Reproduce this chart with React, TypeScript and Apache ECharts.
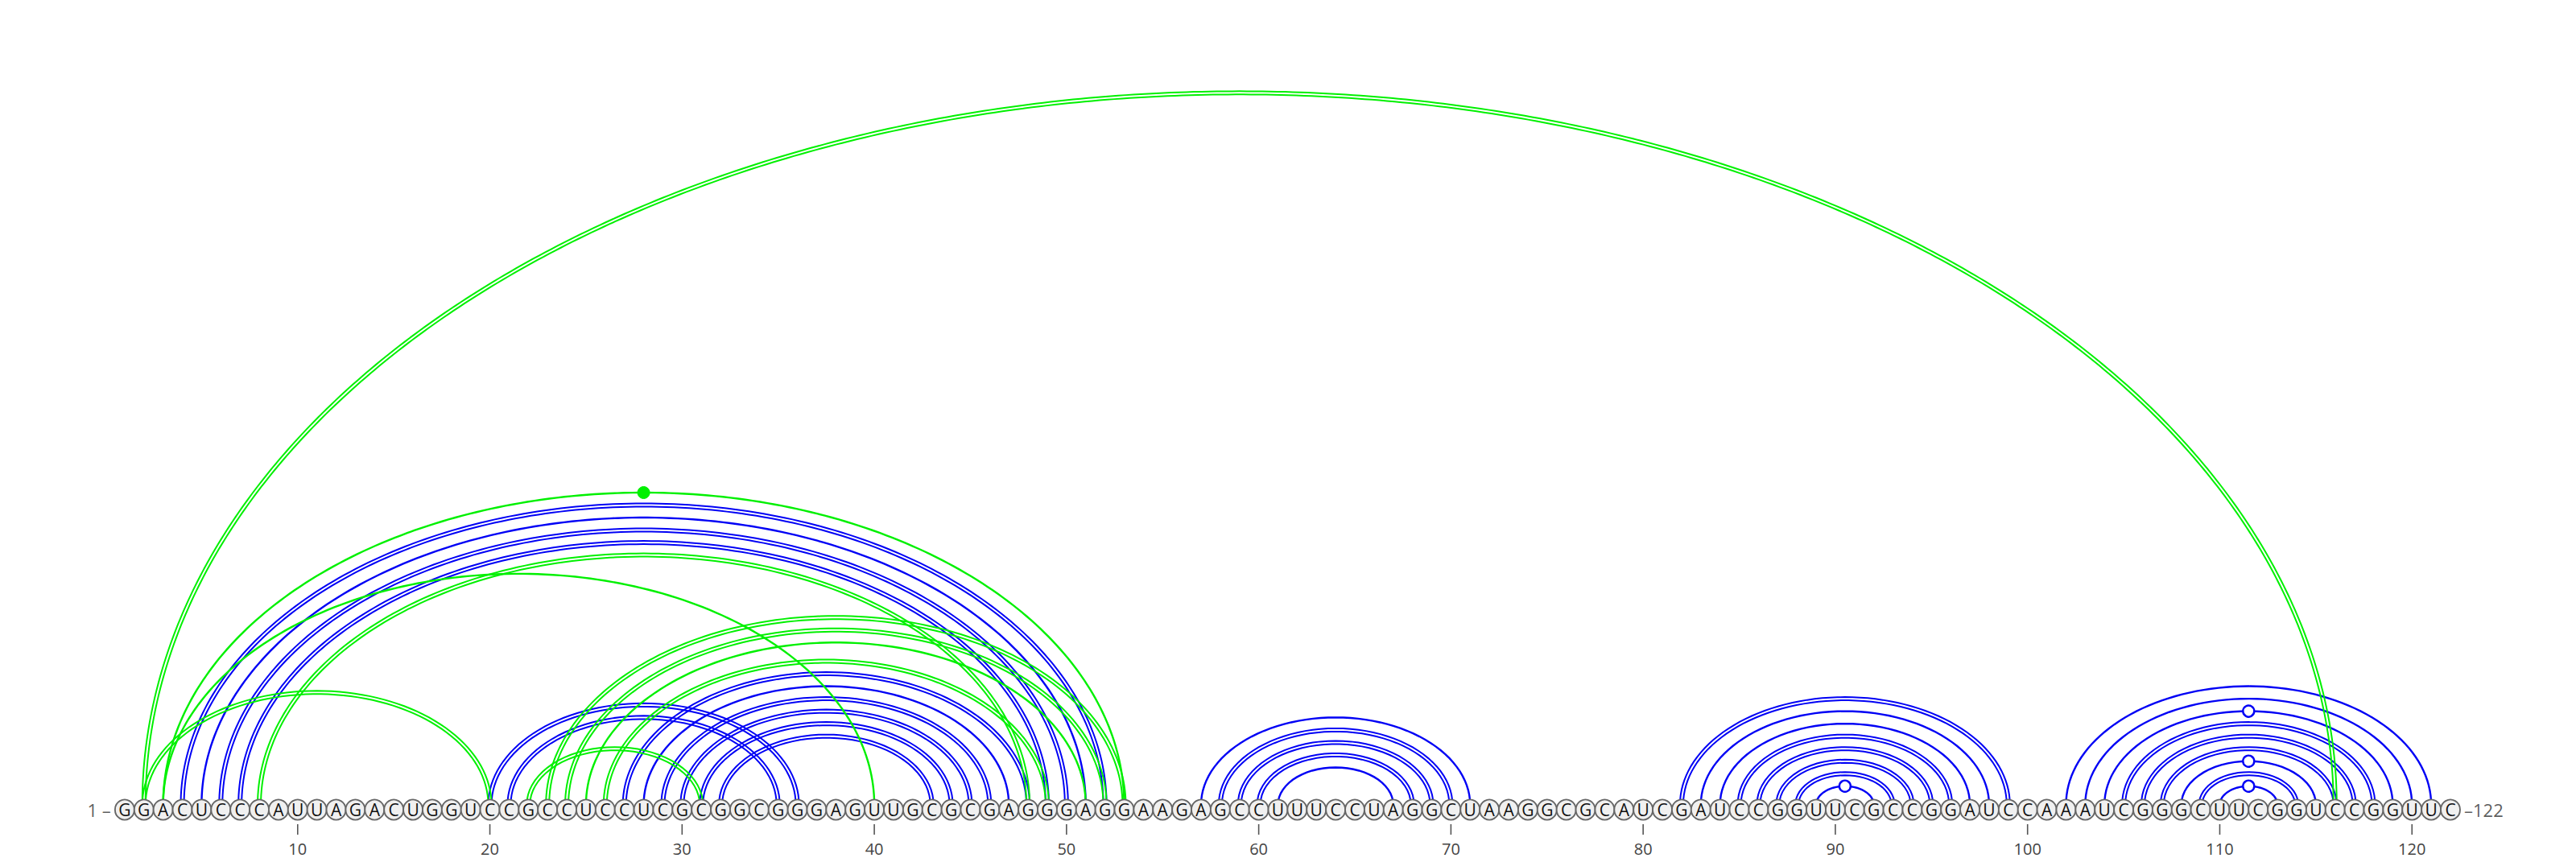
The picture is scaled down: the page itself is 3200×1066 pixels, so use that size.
import React, { useEffect, useRef } from 'react';
import * as echarts from 'echarts';

// Sequence, written in blocks of ten nucleotides
const SEQUENCE_BLOCKS = [
  'GGACUCCCAU', 'UAGACUGGUC', 'CGCCUCCUCG', 'CGGCGGGAGU', 'UGCGCGAGGG',
  'AGGAAGAGCC', 'UUUCCUAGGC', 'UAAGGCGCAU', 'CGAUCCGGUU', 'CGCCGGAUCC',
  'AAAUCGGGCU', 'UCGGUCCGGU', 'UC',
];
const SEQ = SEQUENCE_BLOCKS.join('').split('');

// Base pairs of the first (blue) structure
const BLUE_PAIRS: [number, number][] = [
  [4, 52], [5, 51], [6, 50], [7, 49],
  [20, 36], [21, 35],
  [27, 48], [28, 47], [29, 46], [30, 45], [31, 44], [32, 43],
  [57, 71], [58, 70], [59, 69], [60, 68], [61, 67],
  [82, 99], [83, 98], [84, 97], [85, 96], [86, 95], [87, 94], [88, 93], [89, 92],
  [102, 121], [103, 120], [104, 119], [105, 118], [106, 117], [107, 116], [108, 115], [109, 114], [110, 113],
];

// Base pairs of the second (green) structure
const GREEN_PAIRS: [number, number][] = [
  [2, 116], [2, 20], [3, 53], [3, 40], [8, 48],
  [22, 31], [23, 53], [24, 52], [25, 51], [26, 49],
];

const TICKS = [10, 20, 30, 40, 50, 60, 70, 80, 90, 100, 110, 120];
const END_LABELS = ['1 –', '–122'];

const BLUE = '#0000f5';
const GREEN = '#00f000';
const ARC_LIFT = 6; // px above nucleotide centre where arcs start
const ARC_RATIO = 0.65; // arc height / half width
const DOUBLE_OFF = 2.0;

function pairKind(i: number, j: number): string {
  const p = SEQ[i - 1] + SEQ[j - 1];
  if (p === 'GC' || p === 'CG') return 'double';
  if (p === 'AU' || p === 'UA') return 'single';
  if (p === 'GU' || p === 'UG') return 'wobble';
  return 'other';
}

function ellipsePoints(cx: number, cy: number, a: number, b: number) {
  const n = Math.max(30, Math.round(a / 3));
  const pts: number[][] = [];
  for (let k = 0; k <= n; k++) {
    const t = (Math.PI * k) / n;
    pts.push([cx - a * Math.cos(t), cy - b * Math.sin(t)]);
  }
  return pts;
}

function makeArcSeries(pairs: [number, number][], color: string, z: number) {
  return {
    type: 'custom',
    coordinateSystem: 'cartesian2d',
    z,
    silent: true,
    clip: false,
    data: pairs.map(([i, j]) => [i, j]),
    renderItem: (params: any, api: any) => {
      const [i, j] = pairs[params.dataIndex];
      const p1 = api.coord([i, ARC_LIFT]);
      const p2 = api.coord([j, ARC_LIFT]);
      const cx = (p1[0] + p2[0]) / 2;
      const cy = p1[1];
      const a = (p2[0] - p1[0]) / 2;
      const b = a * ARC_RATIO;
      const kind = pairKind(i, j);
      const children: any[] = [];
      if (kind === 'double') {
        [-DOUBLE_OFF, DOUBLE_OFF].forEach((d) => {
          children.push({
            type: 'polyline',
            shape: { points: ellipsePoints(cx, cy, a + d, b + d) },
            style: { stroke: color, lineWidth: 2.0, fill: null },
          });
        });
      } else {
        children.push({
          type: 'polyline',
          shape: { points: ellipsePoints(cx, cy, a, b) },
          style: { stroke: color, lineWidth: 2.4, fill: null },
        });
      }
      if (kind === 'wobble') {
        children.push({
          type: 'circle',
          shape: { cx, cy: cy - b, r: 7 },
          style: { fill: '#ffffff', stroke: color, lineWidth: 2.4 },
        });
      } else if (kind === 'other') {
        children.push({
          type: 'circle',
          shape: { cx, cy: cy - b, r: 7.5 },
          style: { fill: color, stroke: color, lineWidth: 1 },
        });
      }
      return { type: 'group', children };
    },
  };
}

export default function App() {
  const ref = useRef<HTMLDivElement>(null);

  useEffect(() => {
    document.body.style.margin = '0';
    if (!ref.current) return;
    const chart = echarts.init(ref.current, null, { renderer: 'svg' });
    const n = SEQ.length;
    chart.setOption({
      animation: false,
      backgroundColor: '#ffffff',
      grid: { left: 131, right: 156, top: 0, bottom: 41 },
      xAxis: {
        type: 'value',
        min: 0,
        max: n,
        axisLine: { show: false },
        splitLine: { show: false },
        axisTick: { show: false },
        axisLabel: {
          show: true,
          customValues: TICKS,
          margin: 19,
          fontFamily: 'Open Sans',
          fontSize: 20,
          lineHeight: 20,
          color: '#444444',
        },
      },
      yAxis: {
        type: 'value',
        min: -19,
        max: 1006,
        show: false,
      },
      series: [
        makeArcSeries(BLUE_PAIRS, BLUE, 2),
        makeArcSeries(GREEN_PAIRS, GREEN, 3),
        {
          type: 'custom',
          coordinateSystem: 'cartesian2d',
          silent: true,
          clip: false,
          z: 4,
          data: TICKS.map((t) => [t, 0]),
          renderItem: (params: any, api: any) => {
            const p = api.coord([TICKS[params.dataIndex], -19]);
            return {
              type: 'line',
              shape: { x1: p[0], y1: p[1] - 1, x2: p[0], y2: p[1] + 12 },
              style: { stroke: '#555555', lineWidth: 1.6 },
            };
          },
        },
        {
          type: 'scatter',
          z: 5,
          silent: true,
          symbol: 'circle',
          symbolSize: [24, 25],
          data: SEQ.map((c, k) => ({ name: c, value: [k + 1, 0] })),
          itemStyle: { color: '#f0f0f0', borderColor: '#666666', borderWidth: 1.9, opacity: 1 },
          label: {
            show: true,
            position: 'inside',
            formatter: '{b}',
            fontFamily: 'Open Sans',
            fontSize: 21,
            color: '#111111',
          },
        },
        {
          type: 'scatter',
          z: 5,
          silent: true,
          symbol: 'circle',
          symbolSize: 24,
          itemStyle: { color: 'rgba(0,0,0,0)' },
          data: [
            { value: [1, 0], label: { position: 'left', formatter: END_LABELS[0] } },
            { value: [n, 0], label: { position: 'right', formatter: END_LABELS[1] } },
          ],
          label: {
            show: true,
            distance: 5,
            fontFamily: 'Open Sans',
            fontSize: 22,
            color: '#333333',
          },
        },
      ],
    });
    return () => chart.dispose();
  }, []);

  return <div ref={ref} style={{ width: 3200, height: 1066 }} />;
}
